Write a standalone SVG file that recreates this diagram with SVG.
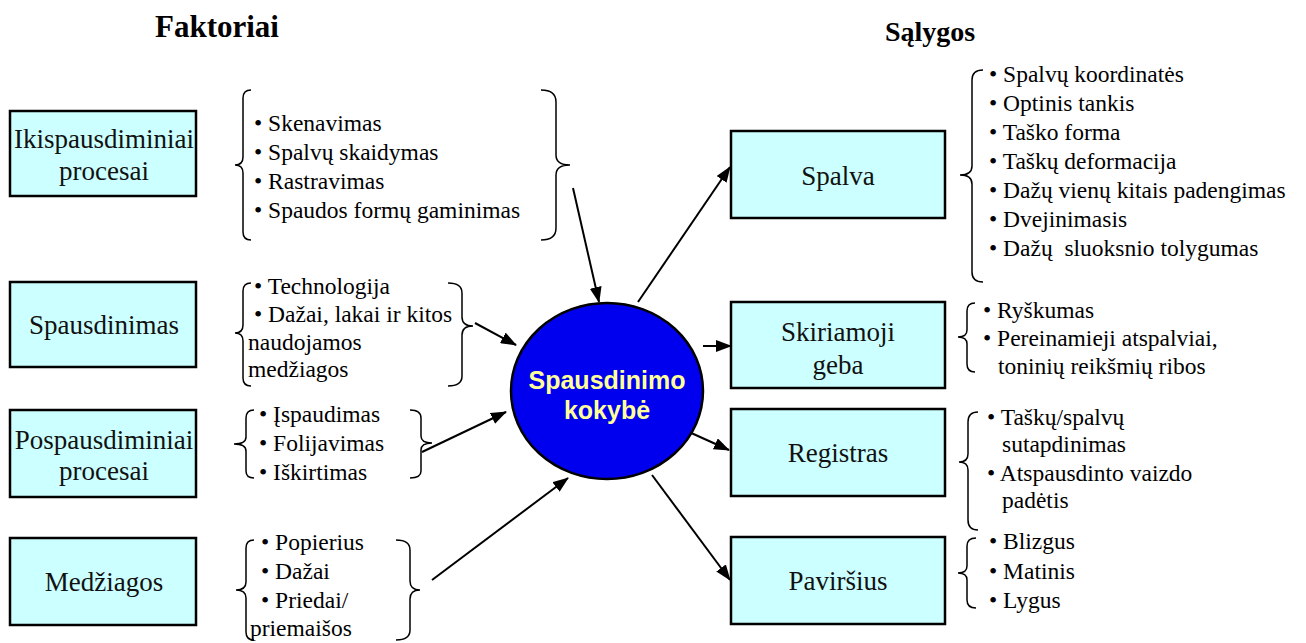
<svg xmlns="http://www.w3.org/2000/svg" width="1306" height="643" viewBox="0 0 1306 643">
<style>
.box{fill:#ccffff;stroke:#000;stroke-width:2.5}
.bt{font-family:"Liberation Serif",serif;font-size:27px;fill:#111;text-anchor:middle}
.li{font-family:"Liberation Serif",serif;font-size:23.5px;fill:#000}
.ttl{font-family:"Liberation Serif",serif;font-weight:bold;fill:#000;text-anchor:middle}
.br{fill:none;stroke:#000;stroke-width:1.5}
.cn{fill:none;stroke:#000;stroke-width:2;marker-end:url(#ah)}
.ct{font-family:"Liberation Sans",sans-serif;font-size:25px;font-weight:bold;fill:#ffff99;text-anchor:middle}
</style>
<defs>
<marker id="ah" markerUnits="userSpaceOnUse" markerWidth="16" markerHeight="12" refX="15" refY="6" orient="auto">
<path d="M0,0 L16,6 L0,12 Z" fill="#000"/>
</marker>
</defs>
<rect width="1306" height="643" fill="#fff"/>
<text class="ttl" x="217" y="37" font-size="31">Faktoriai</text>
<text class="ttl" x="930" y="41" font-size="28">Sąlygos</text>

<g id="connectors">
<line class="cn" x1="573" y1="188" x2="599" y2="302"/>
<line class="cn" x1="475" y1="323" x2="516" y2="345"/>
<line class="cn" x1="422" y1="452" x2="506" y2="412"/>
<line class="cn" x1="432" y1="580" x2="568" y2="478"/>
<line class="cn" x1="638" y1="302" x2="730" y2="167"/>
<line class="cn" x1="703" y1="346" x2="731" y2="346"/>
<line class="cn" x1="689" y1="432" x2="729" y2="450"/>
<line class="cn" x1="652" y1="475" x2="730" y2="580"/>
</g>

<g id="center">
<ellipse cx="607" cy="391" rx="96" ry="88" fill="#0000ee" stroke="#000" stroke-width="2.5"/>
<text class="ct" x="607" y="389">Spausdinimo</text>
<text class="ct" x="607" y="419">kokybė</text>
</g>

<g id="ikispausdiminiai">
<rect class="box" x="10" y="111" width="186" height="85"/>
<text class="bt" x="104" y="148">Ikispausdiminiai</text>
<text class="bt" x="104" y="180">procesai</text>
<path class="br" d="M251,90 Q243,90 243,98 L243,157 Q243,165 235,165 Q243,165 243,173 L243,232 Q243,240 251,240"/>
<text class="li" x="254" y="131">• Skenavimas</text>
<text class="li" x="254" y="160">• Spalvų skaidymas</text>
<text class="li" x="254" y="189">• Rastravimas</text>
<text class="li" x="254" y="218">• Spaudos formų gaminimas</text>
<path class="br" d="M541,90 Q556,90 556,102 L556,155 Q556,165 570,165 Q556,165 556,175 L556,228 Q556,240 541,240"/>
</g>

<g id="spausdinimas">
<rect class="box" x="10" y="282" width="186" height="85"/>
<text class="bt" x="104" y="334">Spausdinimas</text>
<path class="br" d="M251,283 Q243,283 243,291 L243,325 Q243,333 235,333 Q243,333 243,341 L243,378 Q243,386 251,386"/>
<text class="li" x="254" y="294">• Technologija</text>
<text class="li" x="254" y="322">• Dažai, lakai ir kitos</text>
<text class="li" x="248" y="350">naudojamos</text>
<text class="li" x="248" y="377">medžiagos</text>
<path class="br" d="M448,283 Q462,283 462,293 L462,317 Q462,326 473,326 Q462,326 462,335 L462,376 Q462,386 448,386"/>
</g>

<g id="pospausdiminiai">
<rect class="box" x="10" y="410" width="186" height="87"/>
<text class="bt" x="104" y="449">Pospausdiminiai</text>
<text class="bt" x="104" y="480">procesai</text>
<path class="br" d="M254,410 Q246,410 246,418 L246,437 Q246,444 234,444 Q246,444 246,451 L246,471 Q246,478 254,478"/>
<text class="li" x="259" y="422">• Įspaudimas</text>
<text class="li" x="259" y="451">• Folijavimas</text>
<text class="li" x="259" y="480">• Iškirtimas</text>
<path class="br" d="M410,410 Q421,410 421,418 L421,436 Q421,443 432,443 Q421,443 421,450 L421,471 Q421,478 410,478"/>
</g>

<g id="medziagos">
<rect class="box" x="10" y="538" width="186" height="87"/>
<text class="bt" x="104" y="591">Medžiagos</text>
<path class="br" d="M254,540 Q246,540 246,548 L246,582 Q246,590 236,590 Q246,590 246,598 L246,632 Q246,640 254,640"/>
<text class="li" x="261" y="550">• Popierius</text>
<text class="li" x="261" y="579">• Dažai</text>
<text class="li" x="261" y="608">• Priedai/</text>
<text class="li" x="250" y="636">priemaišos</text>
<path class="br" d="M396,540 Q410,540 410,550 L410,581 Q410,590 420,590 Q410,590 410,599 L410,630 Q410,640 396,640"/>
</g>

<g id="spalva">
<rect class="box" x="731" y="131" width="214" height="87"/>
<text class="bt" x="838" y="185">Spalva</text>
<path class="br" d="M983,70 Q972,70 972,80 L972,166 Q972,175 960,175 Q972,175 972,184 L972,272 Q972,282 983,282"/>
<text class="li" x="989" y="82">• Spalvų koordinatės</text>
<text class="li" x="989" y="111">• Optinis tankis</text>
<text class="li" x="989" y="140">• Taško forma</text>
<text class="li" x="989" y="169">• Taškų deformacija</text>
<text class="li" x="989" y="198">• Dažų vienų kitais padengimas</text>
<text class="li" x="989" y="227">• Dvejinimasis</text>
<text class="li" x="989" y="256" xml:space="preserve">• Dažų  sluoksnio tolygumas</text>
</g>

<g id="skiriamoji">
<rect class="box" x="731" y="302" width="214" height="86"/>
<text class="bt" x="838" y="341">Skiriamoji</text>
<text class="bt" x="838" y="374">geba</text>
<path class="br" d="M975,303 Q967,303 967,311 L967,330 Q967,337 958,337 Q967,337 967,344 L967,364 Q967,372 975,372"/>
<text class="li" x="983" y="318">• Ryškumas</text>
<text class="li" x="983" y="346">• Pereinamieji atspalviai,</text>
<text class="li" x="998" y="374">toninių reikšmių ribos</text>
</g>

<g id="registras">
<rect class="box" x="731" y="409" width="214" height="87"/>
<text class="bt" x="838" y="462">Registras</text>
<path class="br" d="M978,412 Q968,412 968,422 L968,454 Q968,462 959,462 Q968,462 968,470 L968,520 Q968,530 978,530"/>
<text class="li" x="987" y="425">• Taškų/spalvų</text>
<text class="li" x="1002" y="452">sutapdinimas</text>
<text class="li" x="987" y="481">• Atspausdinto vaizdo</text>
<text class="li" x="1002" y="508">padėtis</text>
</g>

<g id="pavirsius">
<rect class="box" x="731" y="537" width="214" height="87"/>
<text class="bt" x="838" y="590">Paviršius</text>
<path class="br" d="M976,538 Q967,538 967,546 L967,566 Q967,573 958,573 Q967,573 967,580 L967,600 Q967,608 976,608"/>
<text class="li" x="989" y="549">• Blizgus</text>
<text class="li" x="989" y="579">• Matinis</text>
<text class="li" x="989" y="608">• Lygus</text>
</g>
</svg>
